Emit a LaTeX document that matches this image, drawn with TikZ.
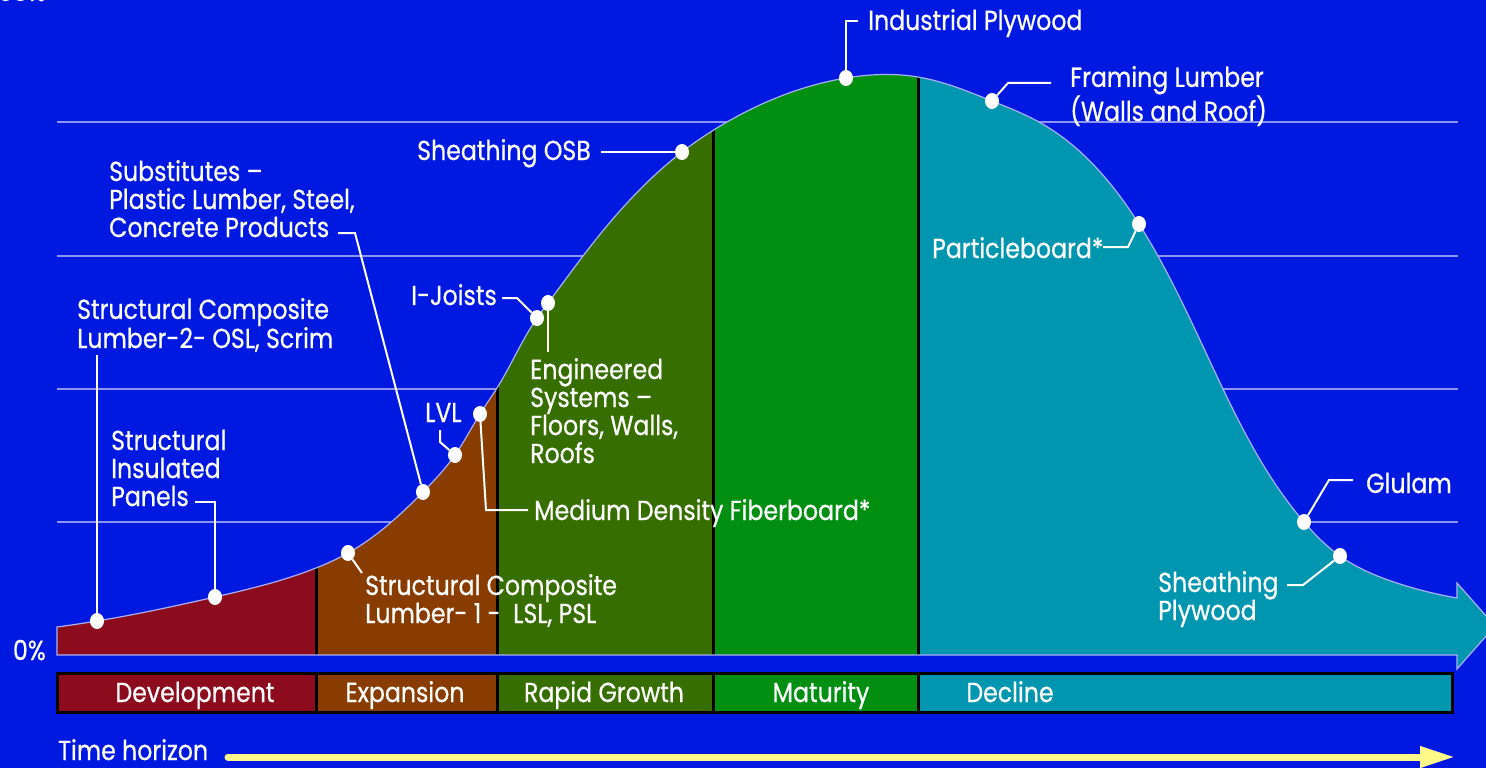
\documentclass[tikz,border=0pt]{standalone}
\usepackage{fontspec}
\setmainfont[FakeStretch=0.86,FakeBold=0.6]{Poppins}
\usetikzlibrary{shapes.geometric,arrows.meta,hobby}

\definecolor{bgblue}{HTML}{0019E1}
\definecolor{devred}{HTML}{8C0C1E}
\definecolor{expbrown}{HTML}{883C00}
\definecolor{rapidgreen}{HTML}{366E00}
\definecolor{matgreen}{HTML}{008F10}
\definecolor{decteal}{HTML}{0096B0}
\definecolor{gridblue}{HTML}{8D95F0}
\definecolor{edgeblue}{HTML}{A9B0F5}
\definecolor{timeyellow}{HTML}{FFF98A}

\tikzset{
  lbl/.style={text=white, inner sep=0pt, anchor=base west, align=left,
    font=\fontsize{27.5}{28}\selectfont},
  leader/.style={white, line width=2pt},
  dotmark/.style={ellipse, fill=white, inner sep=0pt, minimum width=14pt, minimum height=16pt},
  gridline/.style={draw=gridblue, line width=1.2pt},
  divider/.style={black, line width=3pt},
  timearrow/.style={timeyellow, line width=7pt, line cap=round, -{Triangle[length=35pt,width=20pt]}}
}

\begin{document}
\begin{tikzpicture}[x=1pt,y=-1pt]
  \useasboundingbox (0,0) rectangle (1486,768);
  \fill[bgblue] (0,0) rectangle (1486,768);
  % grid lines
  \foreach \y in {122,256,389,522}{
    \draw[gridline] (57,\y) -- (1458,\y); }
  % life cycle area
  \path[save path=\lifearea] (57,655) -- (57,627) to[curve through={(97,621) (215,597) (316,568) (348,553) (423,492) (455,455) (480,414) (497,388) (537,318) (548,303) (583,256) (682,152) (727,122) (846,78) (918,77) (992,101) (1039,122) (1139,224) (1223,389) (1304,522) (1340,556) (1400,584)}] (1457,598) -- (1457,583) -- (1495,626) -- (1457,669) -- (1457,655) -- cycle;
  \begin{scope}
    \clip[use path=\lifearea];
    \foreach \xa/\xb/\col in {0/316/devred, 316/497/expbrown, 497/713/rapidgreen, 713/918/matgreen, 918/1500/decteal}{
      \fill[\col] (\xa,0) rectangle (\xb,700); }
    \foreach \x in {316,497,713,918}{
      \draw[divider] (\x,0) -- (\x,655); }
  \end{scope}
  \draw[edgeblue, line width=1.2pt, use path=\lifearea];
  % phase bar
  \foreach \xa/\xb/\col/\lx/\lab [count=\i] in {57/316/devred/195/Development, 316/497/expbrown/405/Expansion, 497/713/rapidgreen/604/Rapid Growth, 713/918/matgreen/821/Maturity, 918/1452/decteal/1010/Decline}{
    \filldraw[fill=\col, draw=black, line width=3pt] (\xa,673) rectangle (\xb,712);
    \node[lbl, anchor=base] (ph\i) at (\lx,702) {\lab}; }
  % time axis
  \node[lbl] (tTime) at (58,760) {Time horizon};
  \coordinate (cTimeA) at (228,757);
  \coordinate (cTimeB) at (1455,757);
  \draw[timearrow] (cTimeA) -- (cTimeB);
  \node[lbl, anchor=base east] (tZero) at (46,660) {0\%};
  \node[lbl, anchor=base east] (tFull) at (46,1) {100\%};
  % dots on the curve
  \node[dotmark] (pSCL2) at (97,621) {};
  \node[dotmark] (pSIP) at (215,597) {};
  \node[dotmark] (pSCL1) at (348,553) {};
  \node[dotmark] (pSub) at (423,492) {};
  \node[dotmark] (pLVL) at (455,455) {};
  \node[dotmark] (pMDF) at (480,414) {};
  \node[dotmark] (pIJ) at (537,318) {};
  \node[dotmark] (pEng) at (548,303) {};
  \node[dotmark] (pOSB) at (682,152) {};
  \node[dotmark] (pInd) at (846,78) {};
  \node[dotmark] (pFrm) at (992,101) {};
  \node[dotmark] (pPart) at (1139,224) {};
  \node[dotmark] (pGlu) at (1304,522) {};
  \node[dotmark] (pShP) at (1340,556) {};
  % labels (placed at the baseline of the last line)
  \node[lbl] (tSCL2) at (77,348) {Structural Composite\\Lumber-2- OSL, Scrim};
  \node[lbl] (tSIP) at (111,506) {Structural\\Insulated\\Panels};
  \node[lbl] (tSCL1) at (365,623) {Structural Composite\\Lumber- 1 -\ \ LSL, PSL};
  \node[lbl] (tSub) at (109,237) {Substitutes --\\Plastic Lumber, Steel,\\Concrete Products};
  \node[lbl] (tLVL) at (425,422) {LVL};
  \node[lbl] (tMDF) at (534,520) {Medium Density Fiberboard*};
  \node[lbl] (tIJ) at (411,305) {I-Joists};
  \node[lbl] (tEng) at (530,463) {Engineered\\Systems --\\Floors, Walls,\\Roofs};
  \node[lbl, anchor=base east] (tOSB) at (591,160) {Sheathing OSB};
  \node[lbl] (tInd) at (868,30) {Industrial Plywood};
  \node[lbl] (tFrm) at (1070,121) {Framing Lumber\\(Walls and Roof)};
  \node[lbl] (tPart) at (932,258) {Particleboard*};
  \node[lbl] (tGlu) at (1366,493) {Glulam};
  \node[lbl] (tShP) at (1158,620) {Sheathing\\Plywood};
  % leader lines
  \coordinate (cSCL2) at (97,355);
  \coordinate (cSIP) at (195,502);
  \coordinate (cSCL1) at (362,573);
  \coordinate (cSub) at (338,233);
  \coordinate (cLVL) at (440,430);
  \coordinate (cMDF) at (528,510);
  \coordinate (cIJ) at (502,298);
  \coordinate (cEng) at (548,352);
  \coordinate (cOSB) at (601,152);
  \coordinate (cInd) at (858,21);
  \coordinate (cFrm) at (1051,83);
  \coordinate (cPart) at (1103,247);
  \coordinate (cGlu) at (1353,480);
  \coordinate (cShP) at (1287,585);
  \draw[leader] (cSCL2) -- (pSCL2);
  \draw[leader] (cSIP) -| (pSIP);
  \draw[leader] (cSCL1) -- (pSCL1);
  \draw[leader] (cSub) -- ++(17,0) -- (pSub);
  \draw[leader] (cLVL) -- ++(0,12) -- (pLVL);
  \draw[leader] (cMDF) -- ++(-42,0) -- (pMDF);
  \draw[leader] (cIJ) -- ++(15,0) -- (pIJ);
  \draw[leader] (cEng) -- (pEng);
  \draw[leader] (cOSB) -- (pOSB);
  \draw[leader] (cInd) -| (pInd);
  \draw[leader] (cFrm) -- ++(-43,0) -- (pFrm);
  \draw[leader] (cPart) -- ++(25,0) -- (pPart);
  \draw[leader] (cGlu) -- ++(-24,0) -- (pGlu);
  \draw[leader] (cShP) -- ++(16,0) -- (pShP);
\end{tikzpicture}
\end{document}
